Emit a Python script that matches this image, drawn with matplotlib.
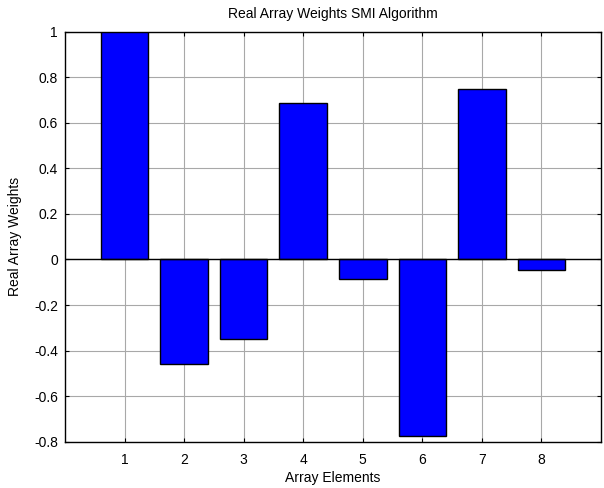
import matplotlib
matplotlib.use("Agg")
import matplotlib.pyplot as plt
import numpy as np

plt.rcParams['font.family'] = ['Liberation Sans', 'DejaVu Sans']

elements = [1, 2, 3, 4, 5, 6, 7, 8]
weights = [1.0, -0.46, -0.35, 0.687, -0.084, -0.775, 0.748, -0.046]
yticks = [-0.8, -0.6, -0.4, -0.2, 0, 0.2, 0.4, 0.6, 0.8, 1]
ytick_labels = ['-0.8', '-0.6', '-0.4', '-0.2', '0', '0.2', '0.4', '0.6', '0.8', '1']

fig = plt.figure(figsize=(6.04, 4.88), dpi=100)
ax = fig.add_axes([65/604, 1 - 441.7/488, (601 - 65)/604, (441.7 - 31.7)/488])

ax.set_axisbelow(True)
ax.grid(True, color='#a8a8a8', linewidth=0.8, linestyle='-')
ax.bar(elements, weights, width=0.8, color='#0000FF', edgecolor='black', linewidth=1.0, zorder=3)
ax.axhline(0, color='black', linewidth=1.0, zorder=4)

ax.set_xlim(0, 9)
ax.set_ylim(-0.8, 1)
ax.set_xticks(elements)
ax.set_xticklabels([str(e) for e in elements])
ax.set_yticks(yticks)
ax.set_yticklabels(ytick_labels)
ax.tick_params(direction='in', length=3, top=True, right=True, labelsize=10, width=0.8)
ax.tick_params(axis='x', pad=8)
ax.tick_params(axis='y', pad=5)
for s in ax.spines.values():
    s.set_linewidth(1.0)

ax.set_title('Real Array Weights SMI Algorithm', fontsize=10, pad=10)
ax.set_xlabel('Array Elements', fontsize=10, labelpad=3)
ax.set_ylabel('Real Array Weights', fontsize=10, labelpad=9)

fig.savefig('out.png', dpi=100)
